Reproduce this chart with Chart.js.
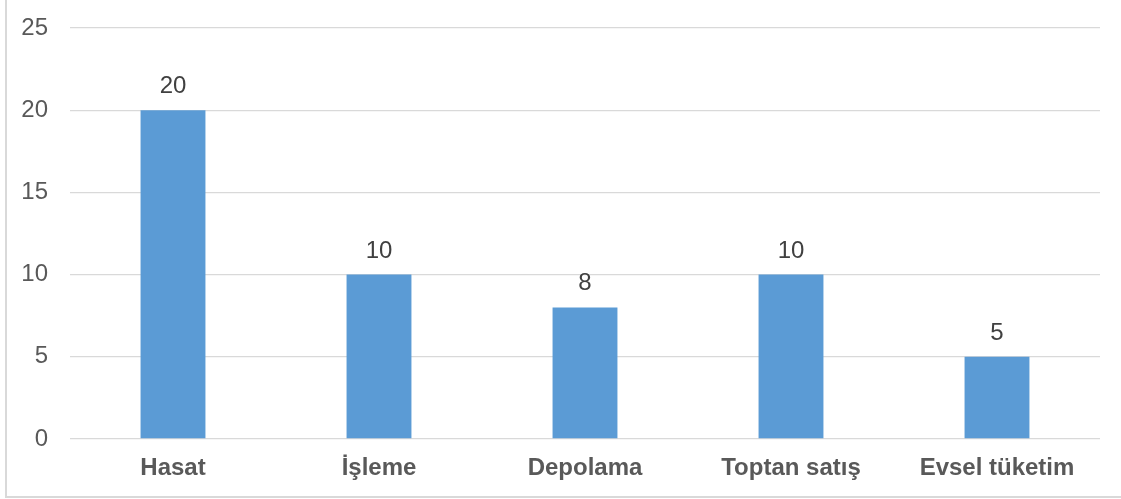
<!DOCTYPE html>
<html>
<head>
<meta charset="utf-8">
<script src="https://cdn.jsdelivr.net/npm/chart.js@4"></script>
<style>
  html, body { margin: 0; padding: 0; background: #fff; }
  #wrap { position: absolute; left: 5px; top: 0; width: 1114px; height: 496px;
          border-left: 2px solid #d9d9d9; border-bottom: 2px solid #d9d9d9; }
  canvas { display: block; }
</style>
</head>
<body>
<div id="wrap"><canvas id="c"></canvas></div>
<script>
const categories = ["Hasat", "İşleme", "Depolama", "Toptan satış", "Evsel tüketim"];
const values = [20, 10, 8, 10, 5];
const yTicks = [0, 5, 10, 15, 20, 25];

const FONT = '"Liberation Sans", Arial, sans-serif';

const dataLabels = {
  id: 'dataLabels',
  afterDatasetsDraw(chart) {
    const ctx = chart.ctx;
    const meta = chart.getDatasetMeta(0);
    ctx.save();
    ctx.font = '24px ' + FONT;
    ctx.fillStyle = '#404040';
    ctx.textAlign = 'center';
    ctx.textBaseline = 'alphabetic';
    meta.data.forEach((bar, i) => {
      ctx.fillText(String(values[i]), bar.x, bar.y - 17);
    });
    ctx.restore();
  }
};

new Chart(document.getElementById('c'), {
  type: 'bar',
  data: {
    labels: categories,
    datasets: [{
      data: values,
      backgroundColor: '#5b9bd5',
      borderWidth: 0,
      barPercentage: 0.63,
      categoryPercentage: 0.5
    }]
  },
  options: {
    responsive: true,
    maintainAspectRatio: false,
    animation: false,
    layout: { padding: { top: 28, right: 21, left: 0, bottom: 0 } },
    plugins: { legend: { display: false }, tooltip: { enabled: false } },
    scales: {
      x: {
        grid: { display: false, drawTicks: false },
        border: { display: false },
        ticks: {
          color: '#595959',
          padding: 15,
          font: { family: FONT, size: 24, weight: 'bold' }
        },
        afterFit(scale) { scale.height = 57; scale.paddingLeft = 0; scale.paddingRight = 0; }
      },
      y: {
        min: 0, max: 25,
        afterBuildTicks(scale) { scale.ticks = yTicks.map(v => ({ value: v })); },
        grid: { color: '#d9d9d9', lineWidth: 1.3, drawTicks: false },
        border: { display: false },
        ticks: {
          color: '#595959',
          padding: 22,
          font: { family: FONT, size: 24 }
        },
        afterFit(scale) { scale.width = 63; scale.paddingTop = 0; scale.paddingBottom = 0; }
      }
    }
  },
  plugins: [dataLabels]
});
</script>
</body>
</html>
